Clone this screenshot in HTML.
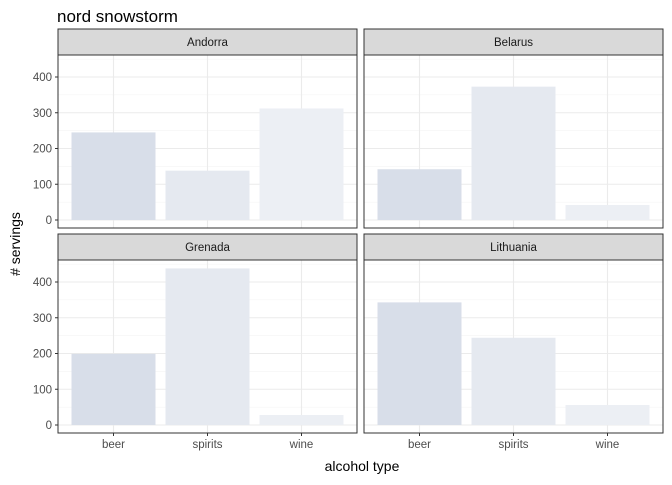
<!DOCTYPE html>
<html><head><meta charset="utf-8"><style>
body{margin:0;background:#fff;font-family:"Liberation Sans",sans-serif;}
</style></head><body>
<svg id="c" width="672" height="480" xmlns="http://www.w3.org/2000/svg">
<text x="57" y="22" font-size="17" fill="#000">nord snowstorm</text>
<text x="362" y="471" font-size="14" text-anchor="middle" fill="#000">alcohol type</text>
<text transform="translate(20,244) rotate(-90)" font-size="14" text-anchor="middle" fill="#000"># servings</text>
</svg>
<script>
const countries=["Andorra","Belarus","Grenada","Lithuania"];
const categories=["beer","spirits","wine"];
const beer=[245,142,199,343];
const spirits=[138,373,438,244];
const wine=[312,42,28,56];
const yTicks=[0,100,200,300,400];
const colors=["#d8dee9","#e5e9f0","#eceff4"];
const svg=document.getElementById('c');
const NS="http://www.w3.org/2000/svg";
function mk(t,a,p){const e=document.createElementNS(NS,t);for(const k in a)e.setAttribute(k,a[k]);(p||svg).appendChild(e);return e;}
const panels=[{x:58,top:29},{x:364,top:29},{x:58,top:234},{x:364,top:234}];
const PW=299,SH=26,PH=173,YMAX=463.6;
panels.forEach((p,i)=>{
  const g=mk('g',{});
  
  
  const py=p.top+SH;
  const yS=v=>py+PH-7-(v/YMAX)*(PH-7-7)*1; // zero at py+PH-8
  const y=v=>(py+PH-8)-v*0.3575;
  const x=j=>p.x+PW/2+(j-1)*94;
  // minor grid
  for(let v=50;v<=450;v+=100)mk('line',{x1:p.x,x2:p.x+PW,y1:y(v),y2:y(v),stroke:'#f2f2f2','stroke-width':0.6},g);
  yTicks.forEach(v=>mk('line',{x1:p.x,x2:p.x+PW,y1:y(v),y2:y(v),stroke:'#ebebeb','stroke-width':1.1},g));
  categories.forEach((c,j)=>mk('line',{x1:x(j),x2:x(j),y1:py,y2:py+PH,stroke:'#ebebeb','stroke-width':1.1},g));
  const vals=[beer[i],spirits[i],wine[i]];
  vals.forEach((v,j)=>{
    const r=mk('rect',{x:x(j)-42,y:y(v),width:84,height:v*0.3575,fill:colors[j]},g);
    
    
  });
  mk('rect',{x:p.x,y:py,width:PW,height:PH,fill:'none',stroke:'#333','stroke-width':1},g);
  const s=mk('rect',{x:p.x,y:p.top,width:PW,height:SH,fill:'#d9d9d9',stroke:'#333','stroke-width':1},g);
  
  
  const st=mk('text',{x:p.x+PW/2,y:p.top+17,'font-size':11.5,'text-anchor':'middle',fill:'#1a1a1a'},g);
  st.textContent=countries[i];
  
  
  if(p.x===58){yTicks.forEach(v=>{
    mk('line',{x1:p.x-3,x2:p.x,y1:y(v),y2:y(v),stroke:'#333'},g);
    const t=mk('text',{x:p.x-6,y:y(v)+4,'font-size':11.5,'text-anchor':'end',fill:'#4d4d4d'},g);
    t.textContent=v;
    
    
  });}
  if(i>=2){categories.forEach((c,j)=>{
    mk('line',{x1:x(j),x2:x(j),y1:py+PH,y2:py+PH+3,stroke:'#333'},g);
    const t=mk('text',{x:x(j),y:py+PH+15,'font-size':11.5,'text-anchor':'middle',fill:'#4d4d4d'},g);
    t.textContent=c;
    
    
  });}
});
</script>
</body></html>
